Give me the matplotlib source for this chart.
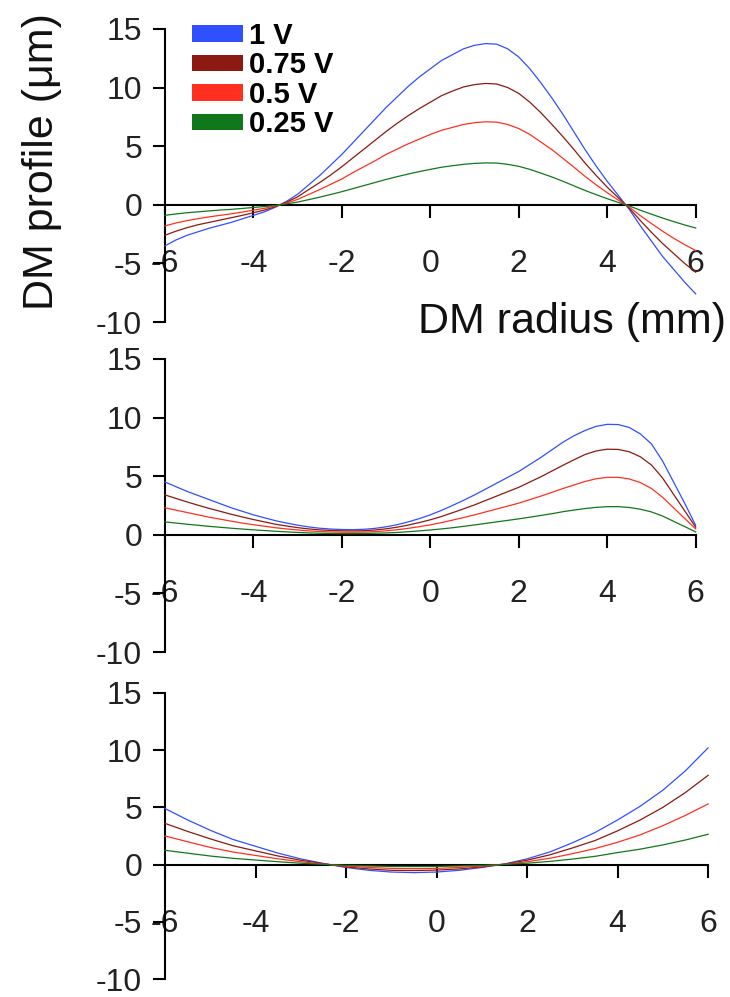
import matplotlib
matplotlib.use('Agg')
import matplotlib.pyplot as plt
from matplotlib.patches import Patch

plt.rcParams['font.family'] = ['Liberation Sans', 'DejaVu Sans']
plt.rcParams['axes.unicode_minus'] = False

#radius positions (mm)
radius_fine = [-6, -5.75, -5.5, -5.25, -5, -4.75, -4.5, -4.25, -4, -3.75, -3.5, -3.25,
               -3, -2.75, -2.5, -2.25, -2, -1.75, -1.5, -1.25, -1, -0.75, -0.5, -0.25,
               0, 0.25, 0.5, 0.75, 1, 1.25, 1.5, 1.75, 2, 2.25, 2.5, 2.75, 3, 3.25,
               3.5, 3.75, 4, 4.25, 4.5, 4.75, 5, 5.25, 5.5, 5.75, 6]
radius = [-6, -5.5, -5, -4.5, -4, -3.5, -3, -2.5, -2, -1.5, -1, -0.5, 0,
          0.5, 1, 1.5, 2, 2.5, 3, 3.5, 4, 4.5, 5, 5.5, 6]

labels = ['1 V', '0.75 V', '0.5 V', '0.25 V']
colors = ['#3050ff', '#8b1a10', '#ff3020', '#10781a']

#top panel profiles (um)
top_1v = [-3.5, -3.0, -2.6, -2.3, -2.0, -1.75, -1.5, -1.2, -0.9, -0.6, -0.2, 0.3,
          0.9, 1.7, 2.5, 3.4, 4.3, 5.3, 6.3, 7.3, 8.3, 9.2, 10.1, 10.9,
          11.6, 12.3, 12.8, 13.3, 13.6, 13.75, 13.7, 13.3, 12.6, 11.6, 10.4, 9.1, 7.7, 6.2,
          4.7, 3.3, 2.0, 0.8, -0.4, -1.8, -3.1, -4.4, -5.5, -6.6, -7.6]
top_075v = [-2.6, -2.25, -1.95, -1.7, -1.5, -1.3, -1.1, -0.9, -0.68, -0.45, -0.15, 0.22,
            0.68, 1.3, 1.9, 2.55, 3.25, 4.0, 4.75, 5.5, 6.25, 6.95, 7.6, 8.2,
            8.75, 9.3, 9.7, 10.05, 10.25, 10.35, 10.3, 10.0, 9.5, 8.75, 7.85, 6.85, 5.8, 4.7,
            3.55, 2.5, 1.5, 0.6, -0.3, -1.35, -2.35, -3.3, -4.15, -5.0, -5.75]
top_05v = [-1.8, -1.55, -1.35, -1.18, -1.03, -0.9, -0.77, -0.62, -0.46, -0.3, -0.1, 0.15,
           0.46, 0.88, 1.3, 1.75, 2.2, 2.75, 3.25, 3.75, 4.3, 4.75, 5.2, 5.6,
           6.0, 6.35, 6.6, 6.85, 7.0, 7.08, 7.05, 6.85, 6.5, 6.0, 5.35, 4.7, 3.95, 3.2,
           2.42, 1.7, 1.03, 0.4, -0.2, -0.93, -1.6, -2.25, -2.85, -3.4, -3.9]
top_025v = [-0.9, -0.78, -0.68, -0.6, -0.52, -0.45, -0.39, -0.31, -0.23, -0.15, -0.05, 0.08,
            0.23, 0.44, 0.65, 0.88, 1.12, 1.38, 1.64, 1.9, 2.16, 2.4, 2.62, 2.83,
            3.02, 3.2, 3.33, 3.45, 3.53, 3.57, 3.56, 3.45, 3.28, 3.02, 2.7, 2.37, 2.0, 1.61,
            1.22, 0.86, 0.52, 0.2, -0.1, -0.47, -0.8, -1.13, -1.43, -1.72, -1.98]

#middle panel profiles (um)
mid_1v = [4.5, 4.1, 3.7, 3.35, 3.0, 2.65, 2.3, 2.0, 1.7, 1.45, 1.2, 1.0,
          0.82, 0.67, 0.56, 0.49, 0.45, 0.44, 0.47, 0.55, 0.68, 0.86, 1.1, 1.38,
          1.7, 2.08, 2.5, 2.94, 3.4, 3.9, 4.4, 4.9, 5.4, 6.0, 6.6, 7.25, 7.9, 8.45,
          8.9, 9.25, 9.42, 9.4, 9.15, 8.6, 7.75, 6.3, 4.5, 2.7, 0.8]
mid_075v = [3.4, 3.1, 2.8, 2.52, 2.25, 2.0, 1.75, 1.52, 1.3, 1.1, 0.9, 0.75,
            0.61, 0.5, 0.42, 0.37, 0.34, 0.33, 0.35, 0.41, 0.51, 0.65, 0.83, 1.04,
            1.28, 1.56, 1.88, 2.21, 2.55, 2.93, 3.3, 3.68, 4.05, 4.5, 4.95, 5.44, 5.93, 6.4,
            6.85, 7.15, 7.3, 7.28, 7.08, 6.65, 5.95, 4.85, 3.45, 2.05, 0.65]
mid_05v = [2.3, 2.1, 1.9, 1.7, 1.5, 1.33, 1.16, 1.0, 0.86, 0.73, 0.6, 0.5,
           0.41, 0.33, 0.28, 0.24, 0.22, 0.22, 0.23, 0.27, 0.34, 0.43, 0.55, 0.69,
           0.85, 1.04, 1.25, 1.47, 1.7, 1.95, 2.2, 2.45, 2.7, 3.0, 3.3, 3.62, 3.95, 4.25,
           4.55, 4.78, 4.9, 4.9, 4.76, 4.45, 3.95, 3.2, 2.3, 1.4, 0.5]
mid_025v = [1.1, 1.0, 0.9, 0.81, 0.72, 0.64, 0.56, 0.49, 0.42, 0.36, 0.3, 0.25,
            0.2, 0.16, 0.13, 0.11, 0.1, 0.1, 0.11, 0.13, 0.16, 0.2, 0.26, 0.33,
            0.41, 0.5, 0.6, 0.72, 0.84, 0.97, 1.1, 1.23, 1.36, 1.5, 1.65, 1.8, 1.97, 2.11,
            2.24, 2.34, 2.4, 2.4, 2.33, 2.18, 1.95, 1.6, 1.15, 0.7, 0.25]

#bottom panel profiles (um)
bot_1v = [4.9, 3.9, 3.0, 2.2, 1.6, 1.0, 0.5, 0.1, -0.25, -0.5, -0.65, -0.7, -0.65,
          -0.5, -0.25, 0.05, 0.5, 1.1, 1.9, 2.8, 3.9, 5.1, 6.5, 8.2, 10.2]
bot_075v = [3.6, 2.9, 2.25, 1.65, 1.2, 0.75, 0.38, 0.08, -0.2, -0.38, -0.5, -0.52, -0.48,
            -0.38, -0.2, 0.04, 0.38, 0.85, 1.45, 2.1, 2.95, 3.9, 5.0, 6.3, 7.8]
bot_05v = [2.5, 2.0, 1.5, 1.1, 0.8, 0.5, 0.25, 0.05, -0.13, -0.25, -0.33, -0.35, -0.33,
           -0.25, -0.13, 0.03, 0.25, 0.55, 0.95, 1.4, 1.95, 2.6, 3.4, 4.3, 5.3]
bot_025v = [1.25, 1.0, 0.75, 0.55, 0.4, 0.25, 0.12, 0.02, -0.06, -0.12, -0.16, -0.17, -0.16,
            -0.12, -0.06, 0.02, 0.12, 0.28, 0.48, 0.72, 1.05, 1.35, 1.72, 2.15, 2.65]

panels = [(radius_fine, [top_1v, top_075v, top_05v, top_025v]),
          (radius_fine, [mid_1v, mid_075v, mid_05v, mid_025v]),
          (radius, [bot_1v, bot_075v, bot_05v, bot_025v])]

# axes boxes [left, bottom, width, height] in figure fraction
boxes = [[0.226, 0.677, 0.727, 0.294],
         [0.226, 0.346, 0.727, 0.294],
         [0.226, 0.018, 0.744, 0.287]]

fig = plt.figure(figsize=(7.30, 9.97), dpi=100)

for box, (xs, series) in zip(boxes, panels):
    ax = fig.add_axes(box)
    for vals, c in zip(series, colors):
        ax.plot(xs, vals, color=c, lw=0.9, clip_on=False, zorder=3)
    ax.set_xlim(-6, 6)
    ax.set_ylim(-10, 15)
    ax.spines['top'].set_visible(False)
    ax.spines['right'].set_visible(False)
    ax.spines['bottom'].set_position(('data', 0))
    ax.spines['left'].set_linewidth(1.5)
    ax.spines['bottom'].set_linewidth(1.5)
    ax.set_xticks([-6, -4, -2, 0, 2, 4, 6])
    ax.set_yticks([-10, -5, 0, 5, 10, 15])
    ax.tick_params(axis='x', direction='out', length=9, width=1.5, pad=23,
                   labelsize=23, labelcolor='#222222')
    ax.tick_params(axis='y', direction='out', length=8.5, width=1.5, pad=8,
                   labelsize=23, labelcolor='#222222')
    ax.patch.set_alpha(0)

# legend on the top panel
handles = [Patch(facecolor=c, edgecolor='none', label=l) for c, l in zip(colors, labels)]
fig.legend(handles=handles, loc='upper left', bbox_to_anchor=(192 / 730, 1 - 22 / 997),
           frameon=False, handlelength=1.75, handleheight=0.5,
           handletextpad=0.2, labelspacing=0.05, borderpad=0, borderaxespad=0,
           prop={'weight': 'bold', 'size': 21})

fig.text(42 / 730, 1 - 162 / 997, 'DM profile (μm)', rotation=90, ha='center', va='center',
         fontsize=31, color='#111111')
fig.text(726 / 730, 1 - 322 / 997, 'DM radius (mm)', ha='right', va='center',
         fontsize=31, color='#111111')

plt.savefig('out.png', dpi=100)
